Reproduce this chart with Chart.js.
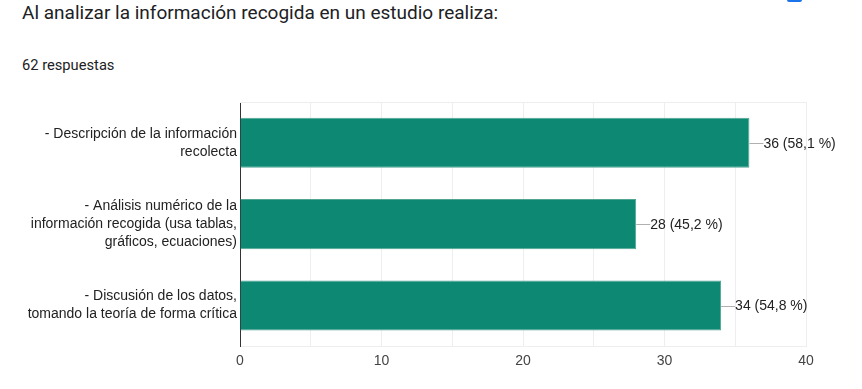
<!DOCTYPE html>
<html lang="es">
<head>
<meta charset="UTF-8">
<title>Al analizar la información</title>
<style>
  html, body { margin: 0; padding: 0; background: #fff; }
  body { width: 862px; height: 389px; position: relative; overflow: hidden; }
  .title { position: absolute; left: 22px; top: 1px; font: 19px Roboto, sans-serif; color: #202124; white-space: nowrap; }
  .count { position: absolute; left: 22px; top: 56px; font: 14.7px Roboto, sans-serif; color: #202124; }
  .icon { position: absolute; left: 787px; top: -3px; width: 15px; height: 5px; background: #1a73e8; border-radius: 2px; }
  #wrap { position: absolute; left: 0; top: 0; width: 862px; height: 389px; }
</style>
</head>
<body>
<div class="title">Al analizar la información recogida en un estudio realiza:</div>
<div class="count">62 respuestas</div>
<div class="icon"></div>
<div id="wrap"><canvas id="chart"></canvas></div>

<script src="https://cdn.jsdelivr.net/npm/chart.js"></script>
<script>
const categories = [
  ['- Descripción de la información', 'recolecta'],
  ['- Análisis numérico de la', 'información recogida (usa tablas,', 'gráficos, ecuaciones)'],
  ['- Discusión de los datos,', 'tomando la teoría de forma crítica']
];
const counts = [36, 28, 34];
const percents = ['58,1 %', '45,2 %', '54,8 %'];
const xTicks = [0, 10, 20, 30, 40];

const font = { family: '"Liberation Sans", Arial, sans-serif', size: 14 };

// value labels with the little connector line
const valueLabels = {
  id: 'valueLabels',
  afterDatasetsDraw(chart) {
    const ctx = chart.ctx;
    const meta = chart.getDatasetMeta(0);
    ctx.save();
    ctx.font = '14px "Liberation Sans", Arial, sans-serif';
    ctx.textBaseline = 'middle';
    ctx.textAlign = 'left';
    meta.data.forEach((bar, i) => {
      ctx.strokeStyle = '#b0b0b0';
      ctx.lineWidth = 1;
      ctx.beginPath();
      ctx.moveTo(bar.x, Math.round(bar.y) + 0.5);
      ctx.lineTo(bar.x + 14, Math.round(bar.y) + 0.5);
      ctx.stroke();
      ctx.fillStyle = '#222';
      ctx.fillText(counts[i] + ' (' + percents[i] + ')', bar.x + 14, bar.y + 1);
    });
    ctx.restore();
  }
};

// light border on top of the plot area
const topBorder = {
  id: 'topBorder',
  beforeDatasetsDraw(chart) {
    const { ctx, chartArea } = chart;
    ctx.save();
    ctx.strokeStyle = '#eeeeee';
    ctx.lineWidth = 1;
    ctx.beginPath();
    ctx.moveTo(chartArea.left, chartArea.top + 0.5);
    ctx.lineTo(chartArea.right, chartArea.top + 0.5);
    ctx.stroke();
    ctx.restore();
  }
};

new Chart(document.getElementById('chart'), {
  type: 'bar',
  data: {
    labels: categories,
    datasets: [{
      data: counts,
      backgroundColor: '#0d8873',
      borderColor: '#4fa592',
      borderWidth: 1,
      categoryPercentage: 1,
      barPercentage: 0.615
    }]
  },
  options: {
    indexAxis: 'y',
    responsive: true,
    maintainAspectRatio: false,
    animation: false,
    layout: { padding: { top: 102, right: 56, bottom: 12, left: 0 } },
    plugins: { legend: { display: false }, tooltip: { enabled: false } },
    scales: {
      x: {
        min: xTicks[0],
        max: xTicks[xTicks.length - 1],
        ticks: {
          stepSize: 5,
          color: '#444',
          font: font,
          padding: 7,
          maxRotation: 0,
          callback: v => xTicks.includes(v) ? v : ''
        },
        grid: { color: '#eeeeee', drawTicks: false },
        border: { color: '#eeeeee' }
      },
      y: {
        afterFit(scale) { scale.width = 240; },
        ticks: { color: '#222', font: { ...font, lineHeight: '18px' }, padding: 3 },
        grid: { display: false, drawTicks: false },
        border: { color: '#333', width: 1 }
      }
    }
  },
  plugins: [topBorder, valueLabels]
});
</script>
</body>
</html>
